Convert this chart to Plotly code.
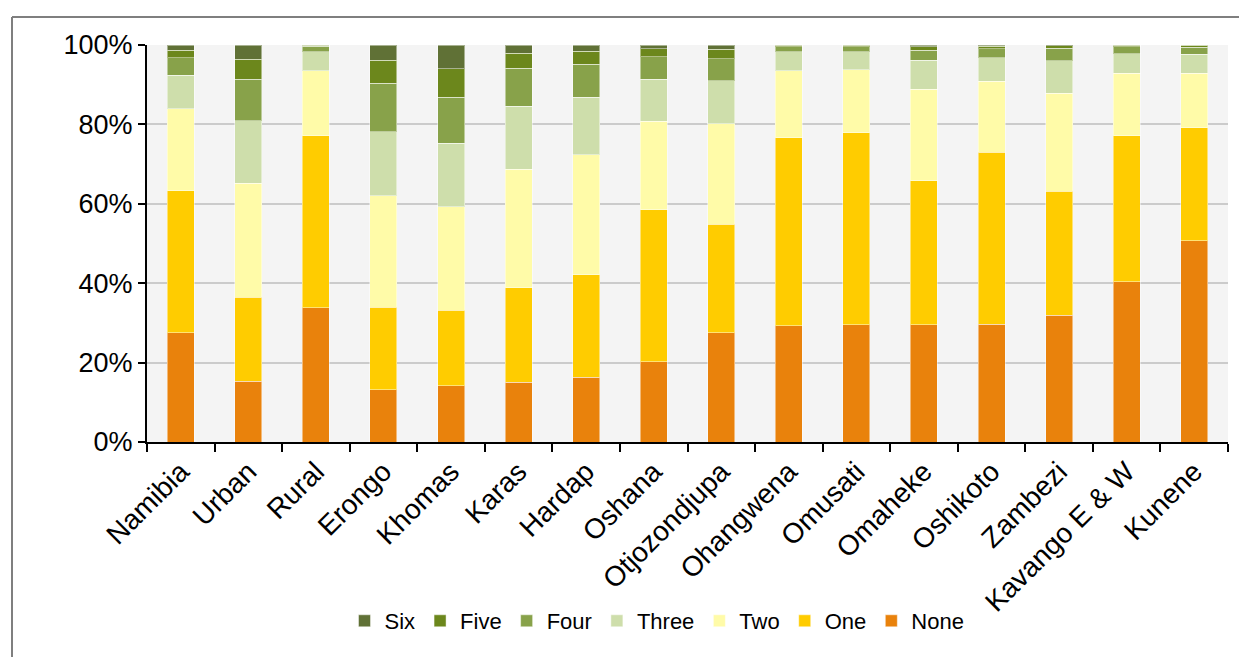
import plotly.graph_objects as go

categories = ["Namibia", "Urban", "Rural", "Erongo", "Khomas", "Karas", "Hardap",
              "Oshana", "Otjozondjupa", "Ohangwena", "Omusati", "Omaheke",
              "Oshikoto", "Zambezi", "Kavango E & W", "Kunene"]

none_vals  = [27.5, 15.3, 33.8, 13.1, 14.2, 15.1, 16.3, 20.2, 27.5, 29.3, 29.5, 29.5, 29.7, 31.9, 40.4, 50.7]
one_vals   = [35.8, 21.1, 43.3, 20.8, 19.0, 23.8, 25.8, 38.3, 27.3, 47.3, 48.4, 36.3, 43.3, 31.3, 36.7, 28.5]
two_vals   = [20.6, 28.8, 16.4, 28.1, 26.1, 29.8, 30.2, 22.3, 25.4, 16.9, 15.9, 23.0, 17.9, 24.6, 15.8, 13.7]
three_vals = [8.5, 15.7, 4.8, 16.2, 15.9, 15.9, 14.5, 10.6, 10.8, 4.8, 4.5, 7.4, 5.9, 8.2, 4.9, 4.8]
four_vals  = [4.4, 10.5, 1.4, 12.2, 11.7, 9.5, 8.4, 5.7, 5.5, 1.3, 1.3, 2.5, 2.2, 3.2, 1.7, 1.7]
five_vals  = [1.9, 5.0, 0.2, 5.7, 7.1, 3.8, 3.2, 1.9, 2.4, 0.3, 0.3, 0.9, 0.7, 0.6, 0.4, 0.5]
six_vals   = [1.3, 3.6, 0.1, 3.9, 6.0, 2.1, 1.6, 1.0, 1.1, 0.1, 0.1, 0.4, 0.3, 0.2, 0.1, 0.1]

series = [
    ("None", none_vals, "#E9820C", 7),
    ("One", one_vals, "#FFCC00", 6),
    ("Two", two_vals, "#FFFBA8", 5),
    ("Three", three_vals, "#CEDEAB", 4),
    ("Four", four_vals, "#88A24A", 3),
    ("Five", five_vals, "#6C871C", 2),
    ("Six", six_vals, "#607136", 1),
]

fig = go.Figure()
for name, vals, color, rank in series:
    fig.add_trace(go.Bar(
        x=categories, y=vals, name=name, legendrank=rank,
        marker=dict(color=color, line=dict(color="rgba(255,255,255,0.45)", width=1)),
    ))

L, R, T, B = 147, 11, 45, 215
W, H = 1239, 657
pw, ph = W - L - R, H - T - B

def px_x(p):
    return (p - L) / pw

def px_y(p):
    return (H - B - p) / ph

frame = dict(color="#7F7F7F", width=2)
fig.update_layout(
    width=W, height=H,
    barmode="stack", barnorm="percent", bargap=0.6,
    margin=dict(l=L, r=R, t=T, b=B, autoexpand=False),
    paper_bgcolor="white", plot_bgcolor="#F4F4F4",
    font=dict(family="Liberation Sans, Arial, sans-serif", color="black"),
    showlegend=True,
    legend=dict(orientation="h", traceorder="normal",
                x=px_x(657), xanchor="center", y=px_y(621), yanchor="middle",
                font=dict(size=22), itemwidth=30, bgcolor="rgba(0,0,0,0)",
                tracegroupgap=0),
    shapes=[
        dict(type="line", xref="paper", yref="paper",
             x0=px_x(12), y0=px_y(17), x1=px_x(1300), y1=px_y(17), line=frame, layer="below"),
        dict(type="line", xref="paper", yref="paper",
             x0=px_x(12), y0=px_y(17), x1=px_x(12), y1=px_y(700), line=frame, layer="below"),
    ],
)
fig.update_xaxes(
    type="category", tickangle=-45, tickfont=dict(size=28),
    showline=True, linecolor="black", linewidth=2,
    ticks="outside", tickson="boundaries", ticklen=8, tickwidth=2, tickcolor="black",
    showgrid=False,
)
fig.update_yaxes(
    range=[0, 100], tickvals=[0, 20, 40, 60, 80, 100],
    ticktext=["0%", "20%", "40%", "60%", "80%", "100%"],
    tickfont=dict(size=27),
    showline=True, linecolor="black", linewidth=2,
    ticks="outside", ticklen=7, tickwidth=2, tickcolor="black",
    showgrid=True, gridcolor="#CBCBCB", gridwidth=2, zeroline=False,
)

fig.write_html(
    "out.html",
    config={"displayModeBar": False},
    post_script="document.documentElement.style.margin='0';"
                "document.documentElement.style.overflow='hidden';"
                "document.body.style.margin='0';"
                "document.body.style.overflow='hidden';",
)
